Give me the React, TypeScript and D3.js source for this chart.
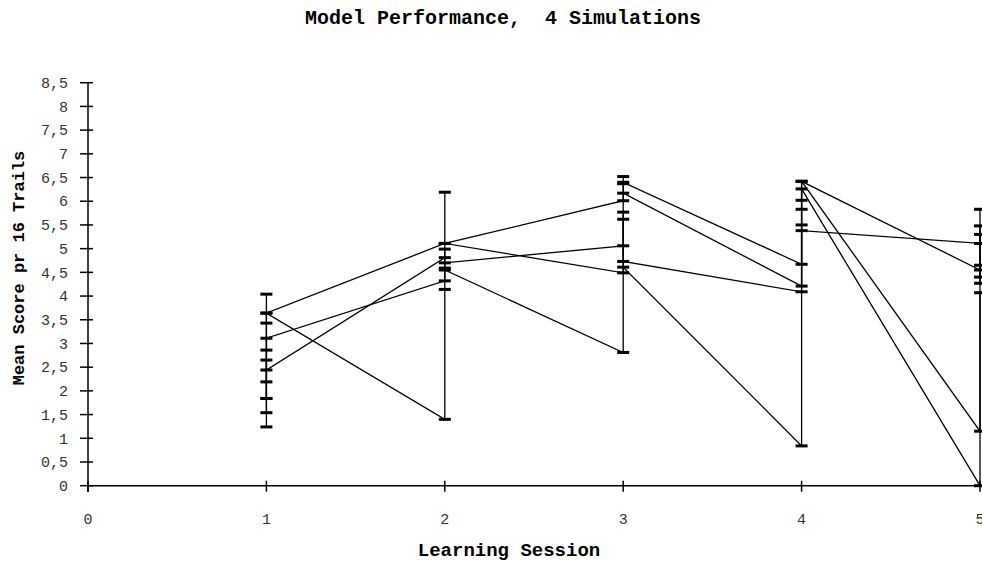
import React from 'react';
import * as d3 from 'd3';

const chartTitle = 'Model Performance,  4 Simulations';
const xTitle = 'Learning Session';
const yTitle = 'Mean Score pr 16 Trails';

const xTicks = [0, 1, 2, 3, 4, 5];
const yTicks = [0, 0.5, 1, 1.5, 2, 2.5, 3, 3.5, 4, 4.5, 5, 5.5, 6, 6.5, 7, 7.5, 8, 8.5];

// each simulation: [learning session, mean score] in drawing order
const sim1: [number, number][] = [
  [1, 1.84], [1, 4.04], [1, 3.64],
  [2, 5.11], [2, 6.19], [2, 5.11],
  [3, 6.01], [3, 6.52], [3, 6.40],
  [4, 4.67], [4, 6.02], [4, 6.42],
  [5, 4.55], [5, 5.83], [5, 4.40],
];
const sim2: [number, number][] = [
  [1, 1.24], [1, 3.43], [1, 3.64],
  [2, 1.40], [2, 4.14], [2, 4.55],
  [3, 2.81], [3, 5.62], [3, 4.61],
  [4, 0.84], [4, 5.50], [4, 6.26],
  [5, 0], [5, 4.07],
];
const sim3: [number, number][] = [
  [1, 1.54], [1, 2.86], [1, 3.11],
  [2, 4.32], [2, 4.99], [2, 4.70],
  [3, 5.06], [3, 5.77], [3, 4.73],
  [4, 4.09], [4, 5.38],
  [5, 5.11], [5, 5.48], [5, 4.27],
];
const sim4: [number, number][] = [
  [1, 1.84], [1, 2.19], [1, 2.65], [1, 2.44],
  [2, 4.81], [2, 4.59], [2, 5.11],
  [3, 4.49], [3, 6.37], [3, 6.17],
  [4, 4.21], [4, 5.83], [4, 6.42],
  [5, 1.15], [5, 5.30], [5, 4.65],
];
const simulations = [sim1, sim2, sim3, sim4];

const W = 982;
const H = 563;
const FONT = '"Liberation Mono", "Courier New", monospace';

export default function App() {
  const x = d3.scaleLinear().domain([0, 5]).range([88, 980]);
  const y = d3.scaleLinear().domain([0, 8.5]).range([485.7, 82.7]);
  const line = d3.line<[number, number]>()
    .x(d => x(d[0]))
    .y(d => y(d[1]));
  const fmt = (v: number) => String(v).replace('.', ',');

  return (
    <svg
      width={W}
      height={H}
      style={{ position: 'absolute', left: 0, top: 0, background: '#fff' }}
    >
      <text x={503} y={24} textAnchor="middle" fontFamily={FONT} fontSize={20}
        fontWeight="bold" fill="#000" style={{ whiteSpace: 'pre' }}>
        {chartTitle}
      </text>

      {/* y axis */}
      <line x1={x(0)} x2={x(0)} y1={y(8.5)} y2={y(0) + 6} stroke="#000" strokeWidth={1.5} />
      {yTicks.map(t => (
        <g key={t}>
          <line x1={x(0) - 8} x2={x(0) + 5} y1={y(t)} y2={y(t)} stroke="#000" strokeWidth={1.5} />
          <text x={68} y={y(t)} dy="0.35em" textAnchor="end" fontFamily={FONT}
            fontSize={15} fill="#333">{fmt(t)}</text>
        </g>
      ))}

      {/* x axis */}
      <line x1={x(0)} x2={W} y1={y(0)} y2={y(0)} stroke="#000" strokeWidth={1.5} />
      {xTicks.map(t => (
        <g key={t}>
          <line x1={x(t)} x2={x(t)} y1={y(0) - 5} y2={y(0) + 6} stroke="#000" strokeWidth={1.5} />
          <text x={x(t)} y={524} textAnchor="middle" fontFamily={FONT}
            fontSize={15} fill="#333">{t}</text>
        </g>
      ))}

      <text x={509} y={556} textAnchor="middle" fontFamily={FONT} fontSize={19}
        fontWeight="bold" fill="#000">{xTitle}</text>
      <text transform={`translate(24,${268}) rotate(-90)`} textAnchor="middle"
        fontFamily={FONT} fontSize={17} fontWeight="bold" fill="#000">{yTitle}</text>

      {/* simulations */}
      {simulations.map((s, i) => (
        <g key={i}>
          <path d={line(s) || ''} fill="none" stroke="#000" strokeWidth={1.3} />
          {s.map((p, j) => (
            <rect key={j} x={x(p[0]) - 6} y={y(p[1]) - 1.5} width={12} height={3} fill="#000" />
          ))}
        </g>
      ))}
    </svg>
  );
}
